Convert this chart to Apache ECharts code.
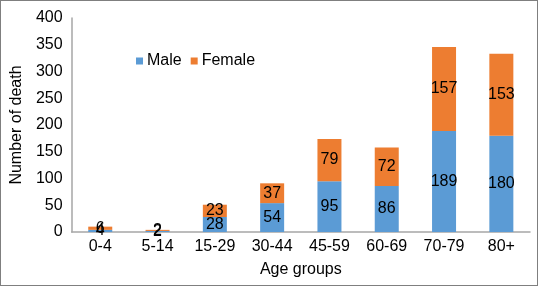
<!DOCTYPE html>
<html>
<head>
<meta charset="utf-8">
<script src="https://cdn.jsdelivr.net/npm/echarts@6/dist/echarts.min.js"></script>
<style>
    html, body { margin: 0; padding: 0; background: #fff; }
    #chart { width: 538px; height: 286px; box-sizing: border-box; border: 1px solid #7f7f7f; }
</style>
</head>
<body>
<div id="chart"></div>
<script>
const ageGroups = ['0-4', '5-14', '15-29', '30-44', '45-59', '60-69', '70-79', '80+'];
const maleDeaths = [4, 2, 28, 54, 95, 86, 189, 180];
const femaleDeaths = [6, 2, 23, 37, 79, 72, 157, 153];
const yTicks = { min: 0, max: 400, interval: 50 };

const chart = echarts.init(document.getElementById('chart'));

const labelStyle = {
    show: true,
    position: 'inside',
    color: '#000',
    fontSize: 16,
    fontFamily: 'Liberation Sans'
};

const option = {
    animation: false,
    textStyle: { fontFamily: 'Liberation Sans' },
    legend: {
        left: 130,
        top: 47,
        itemWidth: 7,
        itemHeight: 7,
        itemGap: 9,
        icon: 'rect',
        textStyle: { fontSize: 16, color: '#000', padding: [0, 0, 0, -1] },
        data: ['Male', 'Female']
    },
    grid: { left: 62, right: 7, top: 17, bottom: 53 },
    xAxis: {
        type: 'category',
        data: ageGroups,
        name: 'Age groups',
        nameLocation: 'middle',
        nameGap: 30,
        nameTextStyle: { fontSize: 16, color: '#000' },
        axisLine: { lineStyle: { color: '#a6a6a6', width: 1.5 } },
        axisTick: { show: false },
        axisLabel: { fontSize: 16, color: '#000', margin: 7 }
    },
    yAxis: {
        type: 'value',
        min: yTicks.min,
        max: yTicks.max,
        interval: yTicks.interval,
        name: 'Number of death',
        nameLocation: 'middle',
        nameGap: 40,
        nameTextStyle: { fontSize: 16, color: '#000' },
        axisLine: { show: true, lineStyle: { color: '#a6a6a6', width: 1.5 } },
        axisTick: { show: false },
        splitLine: { show: false },
        axisLabel: { fontSize: 16, color: '#000', margin: 9 }
    },
    series: [
        {
            name: 'Male',
            type: 'bar',
            stack: 'deaths',
            barWidth: 24,
            itemStyle: { color: '#5b9bd5' },
            label: labelStyle,
            data: maleDeaths
        },
        {
            name: 'Female',
            type: 'bar',
            stack: 'deaths',
            barWidth: 24,
            itemStyle: { color: '#ed7d31' },
            label: labelStyle,
            data: femaleDeaths
        }
    ]
};

chart.setOption(option);
</script>
</body>
</html>
